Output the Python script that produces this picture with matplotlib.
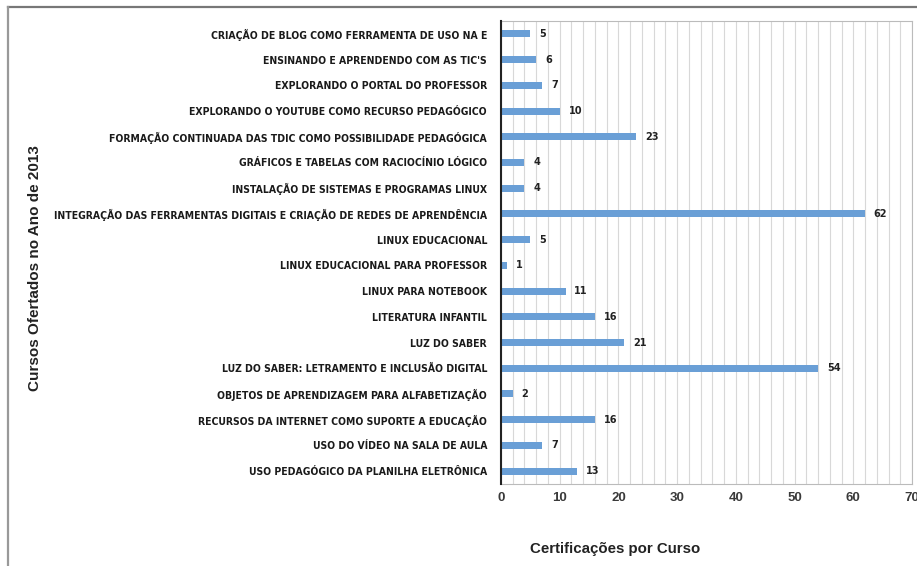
import numpy as np
import matplotlib.pyplot as plt
from matplotlib import font_manager
from matplotlib.lines import Line2D

cursos = [
    "CRIAÇÃO DE BLOG COMO FERRAMENTA DE USO NA E",
    "ENSINANDO E APRENDENDO COM AS TIC'S",
    "EXPLORANDO O PORTAL DO PROFESSOR",
    "EXPLORANDO O YOUTUBE COMO RECURSO PEDAGÓGICO",
    "FORMAÇÃO CONTINUADA DAS TDIC COMO POSSIBILIDADE PEDAGÓGICA",
    "GRÁFICOS E TABELAS COM RACIOCÍNIO LÓGICO",
    "INSTALAÇÃO DE SISTEMAS E PROGRAMAS LINUX",
    "INTEGRAÇÃO DAS FERRAMENTAS DIGITAIS E CRIAÇÃO DE REDES DE APRENDÊNCIA",
    "LINUX EDUCACIONAL",
    "LINUX EDUCACIONAL PARA PROFESSOR",
    "LINUX PARA NOTEBOOK",
    "LITERATURA INFANTIL",
    "LUZ DO SABER",
    "LUZ DO SABER: LETRAMENTO E INCLUSÃO DIGITAL",
    "OBJETOS DE APRENDIZAGEM PARA ALFABETIZAÇÃO",
    "RECURSOS DA INTERNET COMO SUPORTE A EDUCAÇÃO",
    "USO DO VÍDEO NA SALA DE AULA",
    "USO PEDAGÓGICO DA PLANILHA ELETRÔNICA",
]
certificacoes = [5, 6, 7, 10, 23, 4, 4, 62, 5, 1, 11, 16, 21, 54, 2, 16, 7, 13]
xticks = [0, 10, 20, 30, 40, 50, 60, 70]

# narrow bold font for the course names, if one is around
names = {f.name for f in font_manager.fontManager.ttflist}
cond = font_manager.findfont(font_manager.FontProperties(
    family='DejaVu Sans', stretch='condensed', weight='bold'))
if 'Liberation Sans Narrow' in names:
    lab_kw = dict(family='Liberation Sans Narrow', fontweight='bold', fontsize=8.3)
    num_kw = dict(family='Liberation Sans Narrow', fontweight='bold', fontsize=8.5)
elif 'Condensed' in cond:
    lab_kw = dict(family='DejaVu Sans', fontstretch='condensed',
                  fontweight='bold', fontsize=7.5)
    num_kw = dict(family='DejaVu Sans', fontstretch='condensed',
                  fontweight='bold', fontsize=7.8)
else:
    lab_kw = dict(family='Liberation Sans', fontweight='bold', fontsize=6.9)
    num_kw = dict(family='Liberation Sans', fontweight='bold', fontsize=7.5)

arial = ['Liberation Sans', 'DejaVu Sans']

fig = plt.figure(figsize=(9.17, 5.66), dpi=100)
ax = fig.add_axes([501/917, 1 - 484/566, (912-501)/917, (484-21)/566])

y = np.arange(len(cursos))
ax.barh(y, certificacoes, height=0.27, color='#6a9fd6', zorder=3)
for yi, v in zip(y, certificacoes):
    ax.text(v + 1.5, yi, str(v), va='center', ha='left', color='#222222',
            **num_kw)

ax.set_ylim(len(cursos) - 0.5, -0.5)
ax.set_xlim(0, 70)
ax.set_yticks(y)
ax.set_yticklabels(cursos, color='#1a1a1a', **lab_kw)
ax.set_xticks(xticks)
ax.set_xticklabels([str(t) for t in xticks], family=arial, fontsize=9.5,
                   fontweight='bold', color='#3a3a3a')
ax.set_xticks(np.arange(0, 71, 2), minor=True)
ax.grid(True, axis='x', which='both', color='#d8d8d8', linewidth=0.8, zorder=0)
ax.tick_params(axis='both', which='both', length=0)
ax.tick_params(axis='y', pad=10)
ax.tick_params(axis='x', pad=6)

for s in ['top', 'right', 'bottom']:
    ax.spines[s].set_color('#bbbbbb')
    ax.spines[s].set_linewidth(0.8)
ax.spines['left'].set_color('#222222')
ax.spines['left'].set_linewidth(1.5)
ax.spines['left'].set_zorder(4)

fig.text(35/917, 1 - 268/566, 'Cursos Ofertados no Ano de 2013', rotation=90,
         ha='center', va='center', fontsize=11, fontweight='bold',
         family=arial, color='#222222')
fig.text(615/917, 1 - 549/566, 'Certificações por Curso', ha='center',
         va='center', fontsize=10.8, fontweight='bold', family=arial,
         color='#222222')

# outer frame (top and left edges visible)
fig.add_artist(Line2D([8/917, 1], [1 - 7/566, 1 - 7/566], color='#777777',
                      linewidth=1.6, transform=fig.transFigure))
fig.add_artist(Line2D([8/917, 8/917], [0, 1 - 7/566], color='#999999',
                      linewidth=1.6, transform=fig.transFigure))

fig.savefig('out.png', dpi=100)
